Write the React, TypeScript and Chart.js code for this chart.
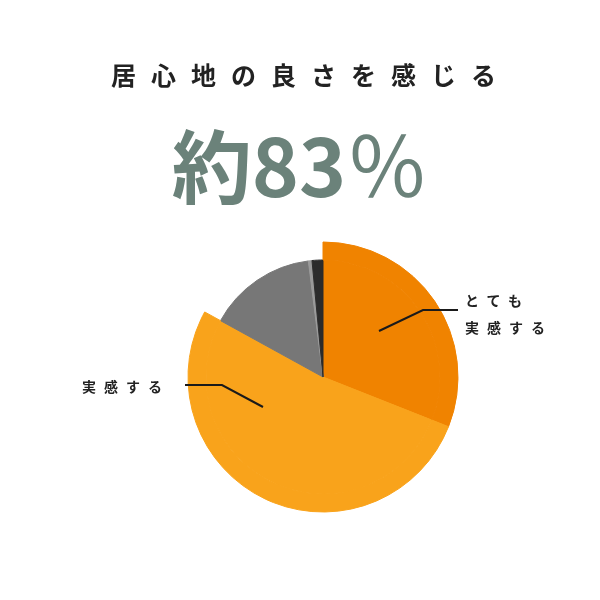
import React, { useEffect, useRef } from 'react'
import { Chart, ArcElement, PieController } from 'chart.js'

Chart.register(ArcElement, PieController)

// answer categories, clockwise from 12 o'clock
const CATEGORIES = ['とても実感する', '実感する', 'あまり感じない', '感じない', '無回答']
const SHARES = [31, 52, 15, 0.5, 1.5]
const FILL = ['#F08300', '#F9A31B', '#777777', '#9A9A9A', '#2B2B2B']
// only the "feel it" slices stick out past the grey ones
const HIGHLIGHT = [true, true, false, false, false]

const TITLE = '居心地の良さを感じる'
const HEADLINE_WORD = '約83'
const HEADLINE_UNIT = '％'

const INK = '#222222'
const SAGE = '#6B827A'
const CLEAR = 'rgba(0,0,0,0)'

// leader lines, in px from the pie centre: [start, elbow, end]
const LEADERS: [number, number][][] = [
  [[56, -46], [100, -67], [135, -67]],
  [[-60, 30], [-101, 8], [-138, 8]],
]

const leaderPlugin = {
  id: 'leaders',
  afterDatasetsDraw(chart: Chart) {
    const arc = chart.getDatasetMeta(1).data[0] as any
    if (!arc) return
    const { ctx } = chart
    ctx.save()
    ctx.strokeStyle = '#1A1A1A'
    ctx.lineWidth = 2
    for (const pts of LEADERS) {
      ctx.beginPath()
      pts.forEach(([dx, dy], i) => {
        if (i === 0) ctx.moveTo(arc.x + dx, arc.y + dy)
        else ctx.lineTo(arc.x + dx, arc.y + dy)
      })
      ctx.stroke()
    }
    ctx.restore()
  },
}

function PieChart() {
  const canvasRef = useRef<HTMLCanvasElement>(null)

  useEffect(() => {
    if (!canvasRef.current) return
    const rim = FILL.map((c, i) => (HIGHLIGHT[i] ? c : CLEAR))
    const chart = new Chart(canvasRef.current, {
      type: 'pie',
      data: {
        labels: CATEGORIES,
        datasets: [
          {
            // outer rim, only painted for the highlighted slices
            data: SHARES,
            backgroundColor: rim,
            borderColor: rim,
            borderWidth: 1,
            weight: 18,
          } as any,
          {
            data: SHARES,
            backgroundColor: FILL,
            borderColor: FILL,
            borderWidth: 1,
            weight: 117,
          } as any,
        ],
      },
      options: {
        responsive: true,
        maintainAspectRatio: false,
        animation: false,
        radius: 135,
        layout: { padding: { left: 46, right: 0, top: 154, bottom: 0 } },
        plugins: { legend: { display: false }, tooltip: { enabled: false } },
      } as any,
      plugins: [leaderPlugin],
    })
    return () => chart.destroy()
  }, [])

  return <canvas ref={canvasRef} />
}

const font = '"Noto Sans CJK JP", "Noto Sans", sans-serif'

export default function App() {
  useEffect(() => {
    document.body.style.margin = '0'
  }, [])

  return (
    <div style={{ position: 'relative', width: 600, height: 600, background: '#fff', fontFamily: font, color: INK }}>
      <div style={{ position: 'absolute', inset: 0 }}>
        <PieChart />
      </div>
      <div style={{ position: 'absolute', left: 111, top: 56, fontSize: 25, fontWeight: 700, letterSpacing: 15, lineHeight: '36px', whiteSpace: 'nowrap' }}>
        {TITLE}
      </div>
      <div style={{ position: 'absolute', left: 0, width: 600, top: 112, textAlign: 'center', fontSize: 80, fontWeight: 700, color: SAGE, lineHeight: '100px', whiteSpace: 'nowrap' }}>
        {HEADLINE_WORD}
        <span style={{ fontWeight: 400, fontSize: 82 }}>{HEADLINE_UNIT}</span>
      </div>
      <div style={{ position: 'absolute', left: 82, top: 376, fontSize: 14, fontWeight: 700, letterSpacing: 8, lineHeight: '20px', whiteSpace: 'nowrap' }}>
        {CATEGORIES[1]}
      </div>
      <div style={{ position: 'absolute', left: 465, top: 287, fontSize: 14, fontWeight: 700, letterSpacing: 8, lineHeight: '27px', whiteSpace: 'nowrap' }}>
        とても<br />実感する
      </div>
    </div>
  )
}
